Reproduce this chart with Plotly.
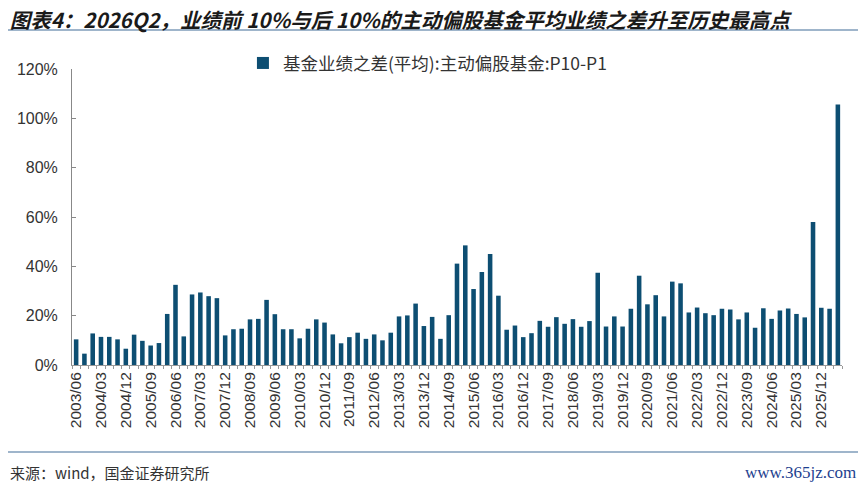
import plotly.graph_objects as go

# quarters 2003/06 .. 2026/06
quarters = []
for year in range(2003, 2027):
    for month in ["03", "06", "09", "12"]:
        q = f"{year}/{month}"
        if "2003/06" <= q <= "2026/06":
            quarters.append(q)

# 基金业绩之差(平均):主动偏股基金:P10-P1, in %
spread = [
    10.4, 4.6, 12.8, 11.4, 11.4, 10.4, 6.6, 12.3, 9.8, 7.9,
    8.9, 20.7, 32.5, 11.6, 28.6, 29.4, 27.9, 27.1, 12.0, 14.5,
    14.7, 18.5, 18.7, 26.4, 20.6, 14.5, 14.5, 10.8, 14.7, 18.5,
    17.2, 12.4, 8.8, 11.3, 13.1, 10.6, 12.4, 10.0, 13.1, 19.7,
    20.1, 24.9, 15.8, 19.5, 10.6, 20.2, 41.1, 48.5, 30.8, 37.7,
    45.0, 28.1, 14.3, 16.0, 11.3, 12.9, 17.9, 15.5, 19.4, 16.7,
    18.6, 15.5, 17.8, 37.4, 15.6, 19.7, 15.6, 22.8, 36.2, 24.6,
    28.3, 19.7, 33.8, 33.1, 21.3, 23.3, 21.0, 20.2, 22.8, 22.5,
    18.5, 21.3, 15.1, 23.0, 18.7, 22.1, 22.9, 20.7, 19.3, 58.0,
    23.2, 22.8, 105.6,
]

tick_text = [q if i % 3 == 0 and i <= 90 else "" for i, q in enumerate(quarters)]

fig = go.Figure()

fig.add_trace(
    go.Bar(
        x=quarters,
        y=spread,
        name="基金业绩之差(平均):主动偏股基金:P10-P1",
        marker_color="#0D4E72",
        marker_line_width=0,
    )
)

# separator lines under the title and above the source note
for y_line in [1.132, -0.294]:
    fig.add_shape(
        type="line", xref="paper", yref="paper",
        x0=-0.087, x1=1.023, y0=y_line, y1=y_line,
        layer="above",
        line={"color": "#7F9CBA", "width": 1.5},
    )

# the page body adds an 8px margin, so the figure is 8px smaller each way
fig.update_layout(
    width=858,
    height=479,
    paper_bgcolor="white",
    plot_bgcolor="white",
    margin={"l": 64, "r": 24, "t": 61, "b": 122},
    font={"family": "Liberation Sans, Arial", "color": "#333333"},
    title={
        "text": "图表4：2026Q2，业绩前 10%与后 10%的主动偏股基金平均业绩之差升至历史最高点",
        "x": 0.002,
        "xanchor": "left",
        "y": 0.973,
        "yanchor": "middle",
        "font": {
            "family": "Noto Sans CJK SC",
            "size": 20.5,
            "color": "#1a1a1a",
            "weight": "bold",
            "style": "italic",
        },
    },
    showlegend=True,
    legend={
        "x": 0.222,
        "y": 1.02,
        "xanchor": "left",
        "yanchor": "middle",
        "orientation": "h",
        "font": {"family": "Noto Sans CJK SC", "size": 17.5, "color": "#333333"},
        "bgcolor": "rgba(0,0,0,0)",
        "itemwidth": 30,
    },
    bargap=0.45,
    xaxis={
        "type": "category",
        "tickmode": "array",
        "tickvals": quarters,
        "ticktext": tick_text,
        "tickangle": -90,
        "tickson": "boundaries",
        "ticks": "outside",
        "ticklen": 3,
        "tickcolor": "#999999",
        "showline": True,
        "linecolor": "#999999",
        "showgrid": False,
        "automargin": False,
        "tickfont": {"size": 15.5, "color": "#333333"},
    },
    yaxis={
        "range": [0, 120],
        "dtick": 20,
        "ticksuffix": "%",
        "ticks": "inside",
        "ticklen": 4,
        "tickcolor": "#888888",
        "showline": True,
        "linecolor": "#888888",
        "showgrid": False,
        "zeroline": False,
        "automargin": False,
        "ticklabelstandoff": 10,
        "tickfont": {"size": 16, "color": "#333333"},
    },
    annotations=[
        {
            "text": "来源：wind，国金证券研究所",
            "xref": "paper",
            "yref": "paper",
            "x": -0.083,
            "y": -0.3615,
            "xanchor": "left",
            "yanchor": "middle",
            "showarrow": False,
            "font": {"family": "Noto Sans CJK SC", "size": 15, "color": "#333333"},
        },
        {
            "text": "www.365jz.com",
            "xref": "paper",
            "yref": "paper",
            "x": 1.0208,
            "y": -0.3615,
            "xanchor": "right",
            "yanchor": "middle",
            "showarrow": False,
            "font": {"family": "Liberation Serif", "size": 17, "color": "#1E3F8F"},
        },
    ],
)

fig.write_html("out.html")
